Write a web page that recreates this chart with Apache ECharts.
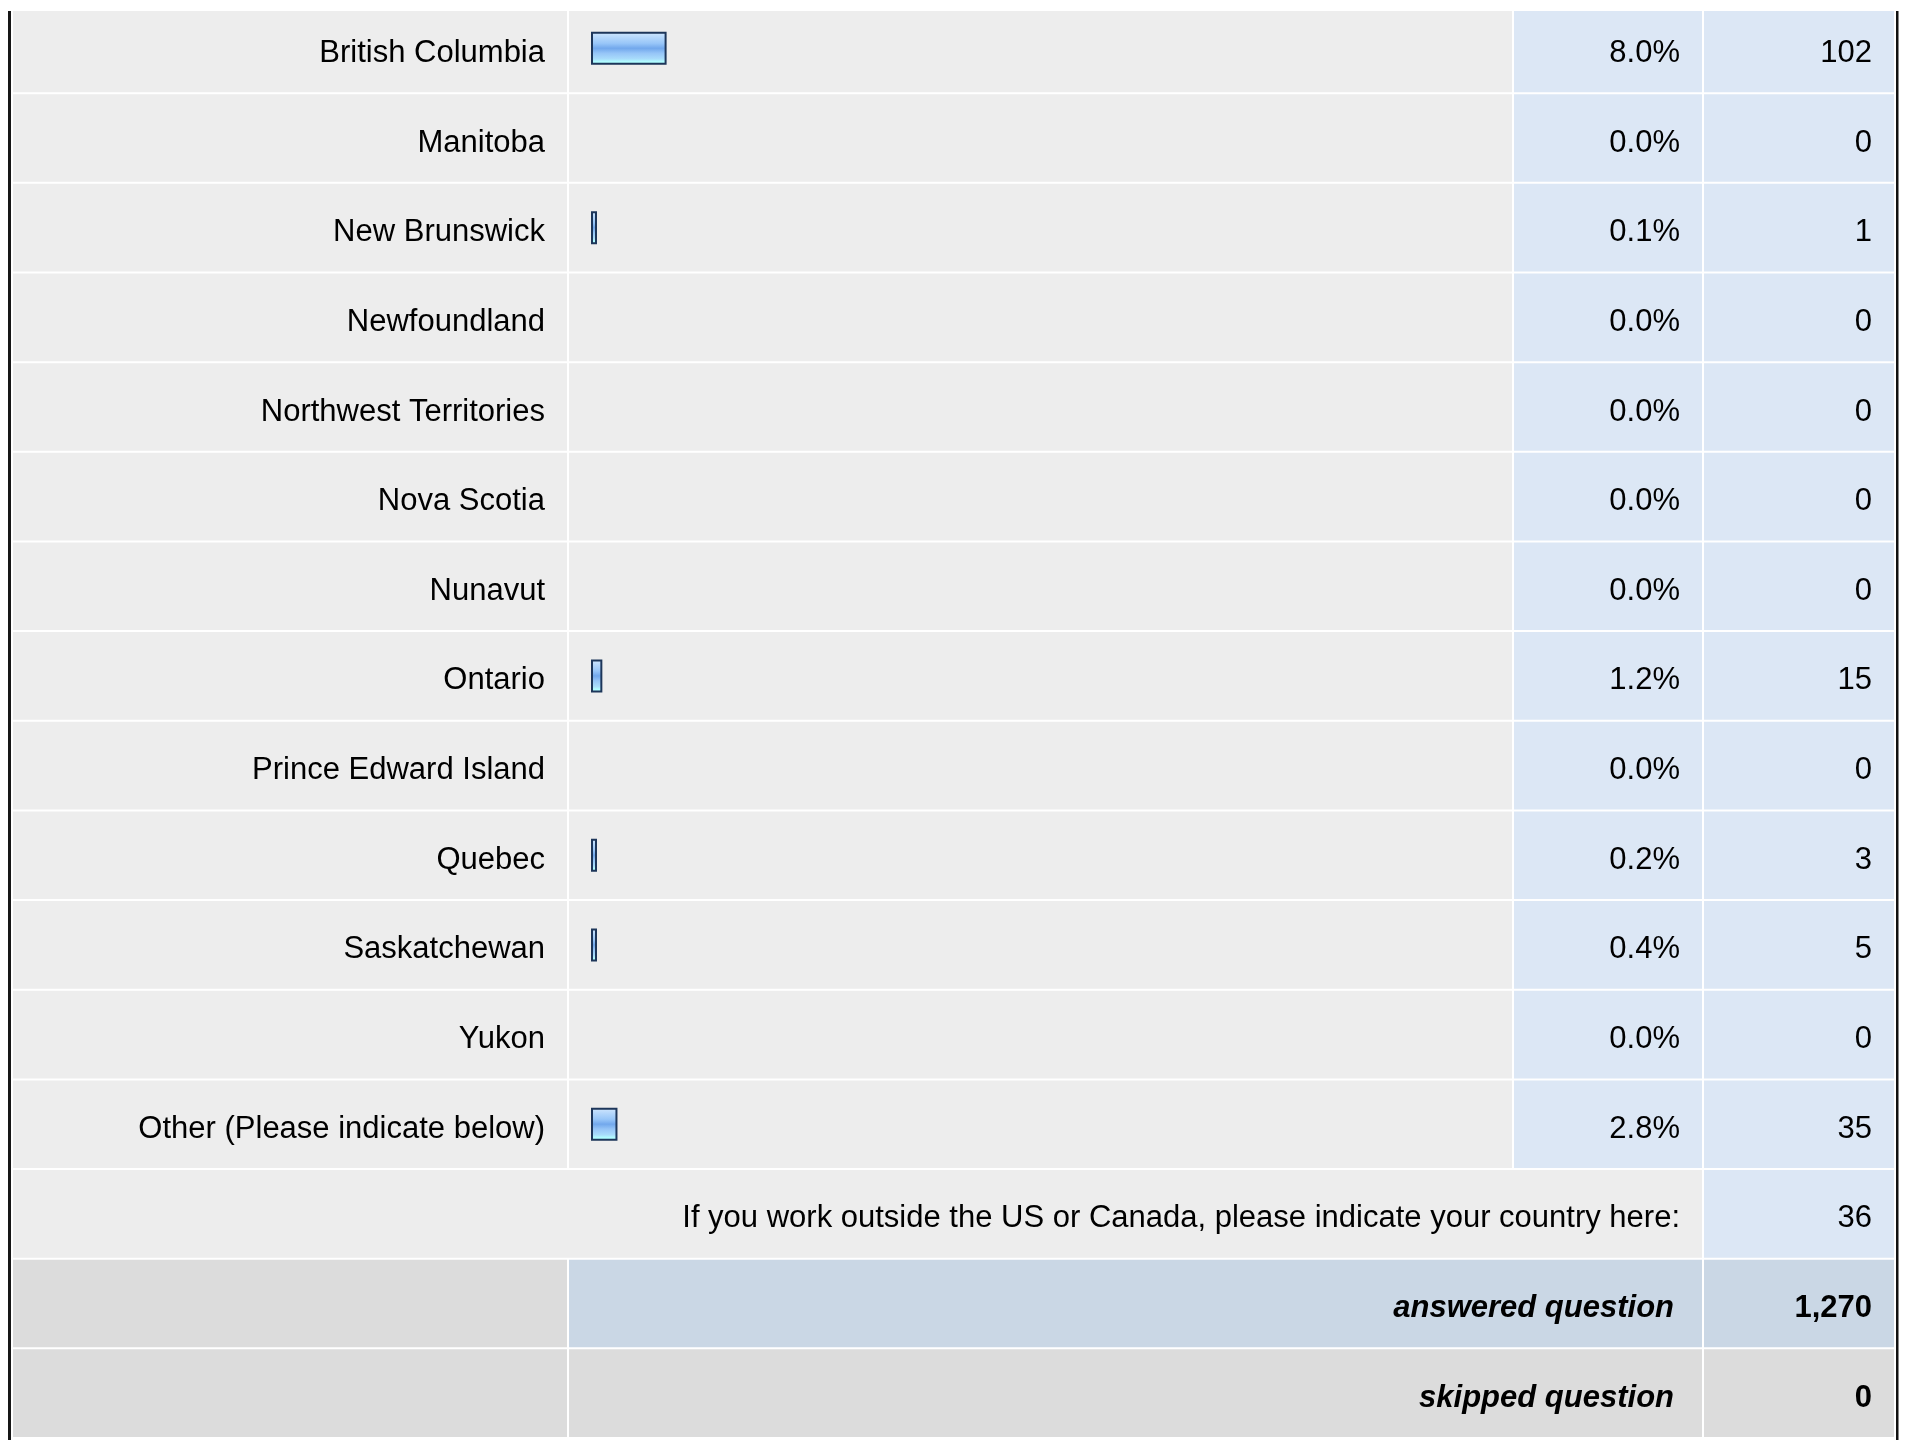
<!DOCTYPE html>
<html><head><meta charset="utf-8">
<script src="https://cdn.jsdelivr.net/npm/echarts@6/dist/echarts.min.js"></script>
<style>html,body{margin:0;padding:0;background:#fff}#c{width:1911px;height:1440px}</style>
</head><body><div id="c"></div>
<script>
// ---- data ----
const categories = ['British Columbia', 'Manitoba', 'New Brunswick', 'Newfoundland', 'Northwest Territories', 'Nova Scotia', 'Nunavut', 'Ontario', 'Prince Edward Island', 'Quebec', 'Saskatchewan', 'Yukon', 'Other (Please indicate below)'];
const percents = [8.0, 0.0, 0.1, 0.0, 0.0, 0.0, 0.0, 1.2, 0.0, 0.2, 0.4, 0.0, 2.8];
const counts = [102, 0, 1, 0, 0, 0, 0, 15, 0, 3, 5, 0, 35];
const outsideLabel = 'If you work outside the US or Canada, please indicate your country here:';
const outsideCount = 36;
const answeredLabel = 'answered question';
const answeredCount = 1270;
const skippedLabel = 'skipped question';
const skippedCount = 0;

// ---- layout / style ----
const W = 1911, H = 1440;
const FONT = '"Liberation Sans", Arial, Helvetica, sans-serif';
const FS = 31;
const COL = {aL: 13, aR: 567, bL: 569, bR: 1512, cL: 1514, cR: 1702, dL: 1704, dR: 1894};
const PAD = 22;
const TEXT_DY = 5;
const GRID_TOP = 3.5, GRID_BOTTOM = 2;
const C_LABEL = '#ededed', C_BLUE = '#dce7f5', C_ANS = '#cad7e5', C_SKIP = '#dcdcdc';

const rowKeys = categories.concat(['__outside', '__answered', '__skipped']);
const fmtPct = v => v.toFixed(1) + '%';
const fmtInt = v => v.toLocaleString('en-US');

function rect(x0, x1, yc, h, fill) {
  return {type: 'rect', shape: {x: x0, y: yc - h / 2 + 1, width: x1 - x0, height: h - 2}, style: {fill: fill}};
}
function text(xr, yc, s, bold) {
  return {type: 'text', style: {x: xr, y: yc + TEXT_DY, text: s, align: 'right', verticalAlign: 'middle', fill: '#000',
    fontSize: FS, fontFamily: FONT, fontWeight: bold ? 'bold' : 'normal', fontStyle: 'normal'}};
}
function textBI(xr, yc, s) {
  const t = text(xr, yc, s, true); t.style.fontStyle = 'italic'; return t;
}

function renderRow(params, api) {
  const i = params.dataIndex;
  const key = rowKeys[i];
  const yc = api.coord([0, key])[1];
  const h = api.size([0, 1])[1];
  const X = v => api.coord([v, key])[0];
  const ch = [];
  if (i < categories.length) {
    ch.push(rect(X(COL.aL), X(COL.aR), yc, h, C_LABEL));
    ch.push(rect(X(COL.bL), X(COL.bR), yc, h, C_LABEL));
    ch.push(rect(X(COL.cL), X(COL.cR), yc, h, C_BLUE));
    ch.push(rect(X(COL.dL), X(COL.dR), yc, h, C_BLUE));
    ch.push(text(X(COL.aR) - PAD, yc, categories[i]));
    ch.push(text(X(COL.cR) - PAD, yc, fmtPct(percents[i])));
    ch.push(text(X(COL.dR) - PAD, yc, fmtInt(counts[i])));
  } else if (key === '__outside') {
    ch.push(rect(X(COL.aL), X(COL.cR), yc, h, C_LABEL));
    ch.push(rect(X(COL.dL), X(COL.dR), yc, h, C_BLUE));
    ch.push(text(X(COL.cR) - PAD, yc, outsideLabel));
    ch.push(text(X(COL.dR) - PAD, yc, fmtInt(outsideCount)));
  } else if (key === '__answered') {
    ch.push(rect(X(COL.aL), X(COL.aR), yc, h, C_SKIP));
    ch.push(rect(X(COL.bL), X(COL.cR), yc, h, C_ANS));
    ch.push(rect(X(COL.dL), X(COL.dR), yc, h, C_ANS));
    ch.push(textBI(X(COL.cR) - PAD - 6, yc, answeredLabel));
    ch.push(text(X(COL.dR) - PAD, yc, fmtInt(answeredCount), true));
  } else {
    ch.push(rect(X(COL.aL), X(COL.aR), yc, h, C_SKIP));
    ch.push(rect(X(COL.bL), X(COL.cR), yc, h, C_SKIP));
    ch.push(rect(X(COL.dL), X(COL.dR), yc, h, C_SKIP));
    ch.push(textBI(X(COL.cR) - PAD - 6, yc, skippedLabel));
    ch.push(text(X(COL.dR) - PAD, yc, fmtInt(skippedCount), true));
  }
  return {type: 'group', children: ch};
}

const barData = rowKeys.map((k, i) => (i < percents.length && percents[i] > 0) ? percents[i] : '-');

const chart = echarts.init(document.getElementById('c'), null, {renderer: 'canvas'});
const hiddenCat = {type: 'category', data: rowKeys, inverse: true, show: false,
  axisLine: {show: false}, axisTick: {show: false}, axisLabel: {show: false}, splitLine: {show: false}};
chart.setOption({
  animation: false,
  backgroundColor: '#ffffff',
  grid: [
    {left: 0, right: 0, top: GRID_TOP, bottom: GRID_BOTTOM},
    {left: 591, width: 945, top: GRID_TOP, bottom: GRID_BOTTOM}
  ],
  xAxis: [
    {gridIndex: 0, type: 'value', min: 0, max: W, show: false},
    {gridIndex: 1, type: 'value', min: 0, max: 100, show: false}
  ],
  yAxis: [
    Object.assign({gridIndex: 0}, hiddenCat),
    Object.assign({gridIndex: 1}, hiddenCat)
  ],
  series: [
    {type: 'custom', xAxisIndex: 0, yAxisIndex: 0, z: 1, clip: false,
      renderItem: renderRow, data: rowKeys.map(k => [0, k])},
    {type: 'bar', xAxisIndex: 1, yAxisIndex: 1, z: 5, data: barData, barWidth: 33, barMinHeight: 6,
      itemStyle: {
        borderColor: '#1d365a', borderWidth: 2,
        color: new echarts.graphic.LinearGradient(0, 0, 0, 1, [
          {offset: 0, color: '#d3e8fd'}, {offset: 0.18, color: '#b3d6fb'},
          {offset: 0.35, color: '#98c6f8'}, {offset: 0.5, color: '#72a8ec'},
          {offset: 0.65, color: '#96c5f7'}, {offset: 0.82, color: '#a9dcfb'},
          {offset: 0.9, color: '#b0fbff'}, {offset: 1, color: '#aeffff'}
        ])
      }}
  ],
  graphic: [
    {type: 'rect', z: 100, shape: {x: 0, y: 0, width: W, height: 11}, style: {fill: '#ffffff'}},
    {type: 'rect', z: 101, shape: {x: 8, y: 11, width: 3, height: H - 11}, style: {fill: '#161616'}},
    {type: 'rect', z: 101, shape: {x: 1896, y: 11, width: 2.5, height: H - 11}, style: {fill: '#111111'}}
  ]
});
</script></body></html>
